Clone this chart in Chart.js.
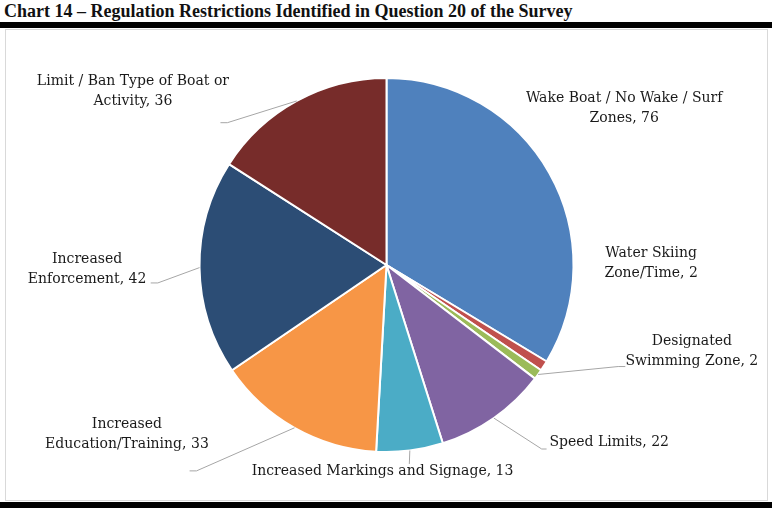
<!DOCTYPE html>
<html>
<head>
<meta charset="utf-8">
<script src="https://cdn.jsdelivr.net/npm/chart.js@4"></script>
<style>
  html, body { margin: 0; padding: 0; background: #fff; }
  body { width: 772px; height: 508px; position: relative; overflow: hidden; }
  #title { position: absolute; left: 4px; top: 1px; font: bold 18px 'Liberation Serif', serif; color: #111; white-space: nowrap; line-height: 20px; }
  #bar { position: absolute; left: 0; top: 22px; width: 772px; height: 6px; background: #000; }
  #box { position: absolute; left: 5px; top: 29px; width: 763px; height: 472px; box-sizing: border-box; border: 1px solid #d9d9d9; }
  #bottom { position: absolute; left: 0; top: 502px; width: 772px; height: 6px; background: #000; }
  canvas { display: block; }
</style>
</head>
<body>
<div id="title">Chart 14 – Regulation Restrictions Identified in Question 20 of the Survey</div>
<div id="bar"></div>
<div id="box"><canvas id="c" width="761" height="470"></canvas></div>
<div id="bottom"></div>
<script>
const categories = [
  "Wake Boat / No Wake / Surf Zones",
  "Water Skiing Zone/Time",
  "Designated Swimming Zone",
  "Speed Limits",
  "Increased Markings and Signage",
  "Increased Education/Training",
  "Increased Enforcement",
  "Limit / Ban Type of Boat or Activity"
];
const values = [76, 2, 2, 22, 13, 33, 42, 36];
const colors = ["#4F81BD", "#C0504D", "#9BBB59", "#8064A2", "#4BACC6", "#F79646", "#2C4D75", "#772C2A"];

// Label text lines (real text), split as in the reference
const labelLines = [
  ["Wake Boat / No Wake / Surf", "Zones, 76"],
  ["Water Skiing", "Zone/Time, 2"],
  ["Designated", "Swimming Zone, 2"],
  ["Speed Limits, 22"],
  ["Increased Markings and Signage, 13"],
  ["Increased", "Education/Training, 33"],
  ["Increased", "Enforcement, 42"],
  ["Limit / Ban Type of Boat or", "Activity, 36"]
];

// Layout of labels relative to pie center, in units of outer radius
// text: center of text block; elbow/end: leader line points (null = no leader)
const labelLayout = [
  { text: [1.271, -0.840], elbow: null, end: null },
  { text: [1.415, -0.011], elbow: null, end: null },
  { text: [1.633, 0.463], elbow: [1.239, 0.543], end: [1.277, 0.543] },
  { text: [1.191, 0.947], elbow: [0.830, 0.984], end: [0.856, 0.984] },
  { text: [-0.021, 1.106], elbow: [0.122, 1.064], end: null },
  { text: [-1.388, 0.904], elbow: [-1.016, 1.101], end: [-1.053, 1.101] },
  { text: [-1.601, 0.021], elbow: [-1.223, 0.096], end: [-1.261, 0.096] },
  { text: [-1.356, -0.931], elbow: [-0.851, -0.761], end: [-0.888, -0.761] }
];

const labelPlugin = {
  id: 'outLabels',
  afterDatasetsDraw(chart) {
    const ctx = chart.ctx;
    const meta = chart.getDatasetMeta(0);
    ctx.save();
    meta.data.forEach((arc, i) => {
      const p = arc.getProps(['x', 'y', 'startAngle', 'endAngle', 'outerRadius'], true);
      const R = p.outerRadius;
      const cx = p.x, cy = p.y;
      const L = labelLayout[i];
      const mid = (p.startAngle + p.endAngle) / 2;
      if (L.elbow) {
        ctx.strokeStyle = '#a6a6a6';
        ctx.lineWidth = 1;
        ctx.beginPath();
        ctx.moveTo(cx + R * Math.cos(mid), cy + R * Math.sin(mid));
        ctx.lineTo(cx + R * L.elbow[0], cy + R * L.elbow[1]);
        if (L.end) ctx.lineTo(cx + R * L.end[0], cy + R * L.end[1]);
        ctx.stroke();
      }
      const lines = labelLines[i];
      const lh = 20;
      const tx = cx + R * L.text[0];
      const ty = cy + R * L.text[1];
      ctx.fillStyle = '#1a1a1a';
      ctx.font = "14px 'DejaVu Serif', serif";
      ctx.textAlign = 'center';
      ctx.textBaseline = 'middle';
      lines.forEach((t, k) => {
        ctx.fillText(t, tx, ty + (k - (lines.length - 1) / 2) * lh);
      });
    });
    ctx.restore();
  }
};

new Chart(document.getElementById('c'), {
  type: 'pie',
  data: {
    labels: categories,
    datasets: [{
      data: values,
      backgroundColor: colors,
      borderColor: '#ffffff',
      borderWidth: 2
    }]
  },
  options: {
    responsive: false,
    animation: false,
    layout: { padding: { top: 47, bottom: 47, left: 0, right: 0 } },
    plugins: { legend: { display: false }, tooltip: { enabled: false }, title: { display: false } }
  },
  plugins: [labelPlugin]
});
</script>
</body>
</html>
